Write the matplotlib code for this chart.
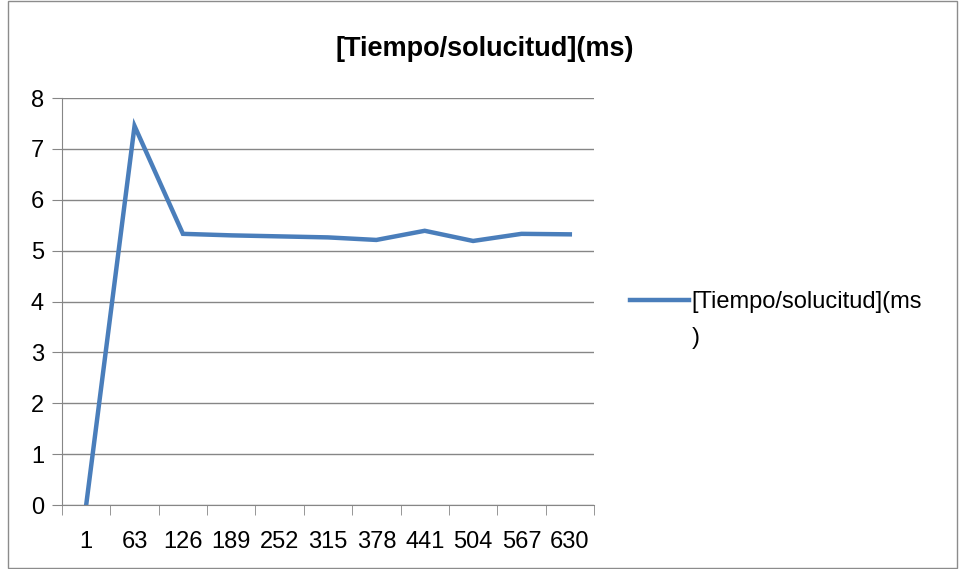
import matplotlib.pyplot as plt
from matplotlib.patches import Rectangle

# Data
categories = ['1', '63', '126', '189', '252', '315', '378', '441', '504', '567', '630']
tiempo = [0.0, 7.45, 5.33, 5.30, 5.28, 5.26, 5.21, 5.39, 5.19, 5.33, 5.32]
yticks = [0, 1, 2, 3, 4, 5, 6, 7, 8]

plt.rcParams['font.family'] = ['Liberation Sans', 'DejaVu Sans']

fig = plt.figure(figsize=(9.59, 5.69), dpi=100)
fig.patches.append(Rectangle((0.008, 0.002), 0.990, 0.996, transform=fig.transFigure,
                             fill=False, edgecolor='#8c8c8c', linewidth=1))

ax = fig.add_axes([62 / 959, 1 - 505 / 569, (594 - 62) / 959, (505 - 98) / 569])

x = list(range(len(categories)))
line, = ax.plot(x, tiempo, color='#4A7EBB', linewidth=3.2, solid_joinstyle='miter',
                label='[Tiempo/solucitud](ms')

ax.set_xlim(-0.5, len(categories) - 0.5)
ax.set_ylim(0, 8)
ax.set_yticks(yticks)
ax.set_xticks(x)
ax.set_xticklabels(categories)
ax.set_xticks([i - 0.5 for i in range(len(categories) + 1)], minor=True)
ax.tick_params(axis='x', which='major', length=0, pad=19, labelsize=17)
ax.tick_params(axis='x', which='minor', length=7, color='#868686', direction='out')
ax.tick_params(axis='y', length=7, color='#868686', labelsize=17, pad=6)

ax.grid(axis='y', color='#868686', linewidth=1)
ax.set_axisbelow(True)
for s in ['top', 'right']:
    ax.spines[s].set_visible(False)
ax.spines['left'].set_color('#868686')
ax.spines['bottom'].set_color('#868686')

fig.text(485 / 959, 1 - 49 / 569, '[Tiempo/solucitud](ms)', ha='center', va='center',
         fontsize=19.5, fontweight='bold')

fig.legend(handles=[line], loc='center left', bbox_to_anchor=(630 / 959, 1 - 302 / 569),
           frameon=False, fontsize=17, handlelength=2.5, handletextpad=0.1,
           borderpad=0, borderaxespad=0)
fig.text(692 / 959, 1 - 338 / 569, ')', ha='left', va='center', fontsize=17)

fig.savefig('out.png', dpi=100)
